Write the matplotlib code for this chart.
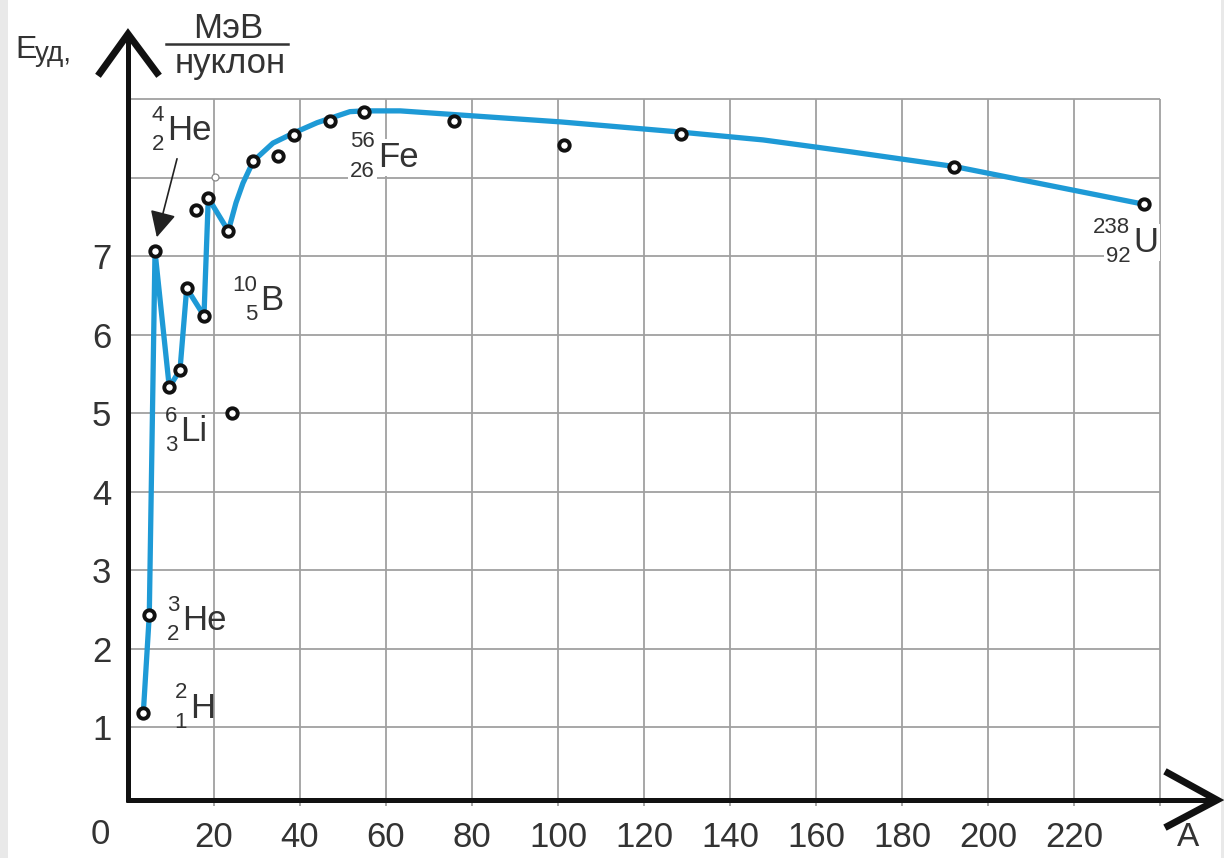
import matplotlib
matplotlib.use('Agg')
import matplotlib.pyplot as plt
from matplotlib.patches import Rectangle

plt.rcParams['font.family'] = ['Liberation Sans', 'DejaVu Sans']

# кривая удельной энергии связи
curve_A = [3.56, 4.95, 6.28, 9.60, 12.09, 13.65, 17.67, 18.67, 23.33, 25.12, 26.74,
           29.14, 33.72, 38.6, 44.0, 51.6, 54.9, 63.3, 81.9, 100.5, 128.4, 147.7,
           167.9, 192.3, 236.3]
curve_E = [1.18, 2.43, 7.06, 5.33, 5.55, 6.59, 6.24, 7.74, 7.32, 7.68, 7.93,
           8.21, 8.44, 8.57, 8.70, 8.84, 8.85, 8.85, 8.78, 8.71, 8.58, 8.48,
           8.33, 8.14, 7.66]

# экспериментальные точки
pts_A = [3.56, 4.95, 6.28, 9.60, 12.09, 13.65, 17.67, 15.8, 18.67, 23.33, 24.1,
         29.14, 34.8, 38.7, 47.0, 54.9, 75.9, 101.4, 128.7, 192.2, 236.3]
pts_E = [1.18, 2.43, 7.06, 5.33, 5.55, 6.59, 6.24, 7.59, 7.74, 7.32, 5.0,
         8.21, 8.28, 8.54, 8.72, 8.84, 8.72, 8.41, 8.56, 8.13, 7.66]

open_A = [20.2]
open_E = [8.01]

x_ticks = [20, 40, 60, 80, 100, 120, 140, 160, 180, 200, 220]
y_ticks = [1, 2, 3, 4, 5, 6, 7]

txt = '#333333'

fig = plt.figure(figsize=(12.24, 8.58), dpi=100)
ax = fig.add_axes([128 / 1224, 52.4 / 858, 1032 / 1224, 706.5 / 858])
ax.set_xlim(0, 240)
ax.set_ylim(0, 9)
for s in ax.spines.values():
    s.set_visible(False)

# сетка
ax.vlines(range(20, 241, 20), 0, 9, color='#a0a0a0', lw=1.3, zorder=1, clip_on=False)
ax.hlines(range(1, 10), 0, 240, color='#a0a0a0', lw=1.3, zorder=1, clip_on=False)

ax.plot(curve_A, curve_E, color='#1e9ad6', lw=3.8, solid_joinstyle='round',
        solid_capstyle='round', zorder=3, clip_on=False)
ax.plot(pts_A, pts_E, 'o', ms=7.5, mfc='white', mec='#111111', mew=2.8, zorder=4, clip_on=False)
ax.plot(open_A, open_E, 'o', ms=5, mfc='white', mec='#888888', mew=0.9, zorder=4)

ax.set_xticks(x_ticks)
ax.set_yticks(y_ticks)
ax.tick_params(length=0, labelsize=25, labelcolor=txt)
ax.tick_params(axis='x', pad=11)
ax.tick_params(axis='y', pad=12)


def isotope(x, y, sym, top, bottom, bg=False):
    kw = dict(color=txt, zorder=5)
    if bg:
        kw['bbox'] = dict(fc='white', ec='none', pad=1.5)
    ax.text(x, y, sym, ha='left', va='center', fontsize=25, **kw)
    ax.annotate(top, (x, y), xytext=(-2, 11), textcoords='offset points',
                ha='right', va='center', fontsize=16, **kw)
    ax.annotate(bottom, (x, y), xytext=(-2, -10), textcoords='offset points',
                ha='right', va='center', fontsize=16, **kw)


isotope(14.4, 1.24, 'H', '2', '1')
isotope(12.6, 2.36, 'He', '3', '2')
isotope(9.1, 8.60, 'He', '4', '2')
isotope(12.1, 4.76, 'Li', '6', '3')
isotope(30.7, 6.43, 'B', '10', '5')
isotope(58.1, 8.26, 'Fe', '56', '26', bg=True)
isotope(233.7, 7.17, 'U', '238', '92', bg=True)

ax.annotate('', xy=(6.7, 7.24), xytext=(11.4, 8.24),
            arrowprops=dict(arrowstyle='-|>', color='#222222', lw=1.2,
                            mutation_scale=40, shrinkA=0, shrinkB=0), zorder=5)

# оси со стрелками и подписи (в пикселях рисунка)
ov = fig.add_axes([0, 0, 1, 1], zorder=10)
ov.set_xlim(0, 1224)
ov.set_ylim(858, 0)
ov.axis('off')
ov.add_patch(Rectangle((0, 0), 8, 858, color='#e9e9e9', lw=0))
ov.add_patch(Rectangle((1221, 0), 3, 858, color='#e9e9e9', lw=0))

ov.plot([128, 128], [802, 38], color='#111111', lw=3.6, solid_capstyle='butt')
ov.plot([100, 128, 157], [73, 34, 73], color='#111111', lw=5, solid_joinstyle='miter')
ov.plot([126, 1212], [800, 800], color='#111111', lw=3.6, solid_capstyle='butt')
ov.plot([1168, 1217, 1168], [773, 800, 826], color='#111111', lw=5, solid_joinstyle='miter')

ov.text(100, 834, '0', ha='center', va='center', fontsize=25, color=txt)
ov.text(1188, 838, 'A', ha='center', va='center', fontsize=24, color=txt)
ov.text(15, 50, 'E', ha='left', va='center', fontsize=23, color=txt)
ov.text(35, 54, 'уд,', ha='left', va='center', fontsize=20, color=txt)
ov.text(228, 29, 'МэВ', ha='center', va='center', fontsize=25, color=txt)
ov.plot([166, 288], [44, 44], color=txt, lw=1.8)
ov.text(230, 64, 'нуклон', ha='center', va='center', fontsize=25, color=txt)

fig.savefig('out.png', dpi=100)
